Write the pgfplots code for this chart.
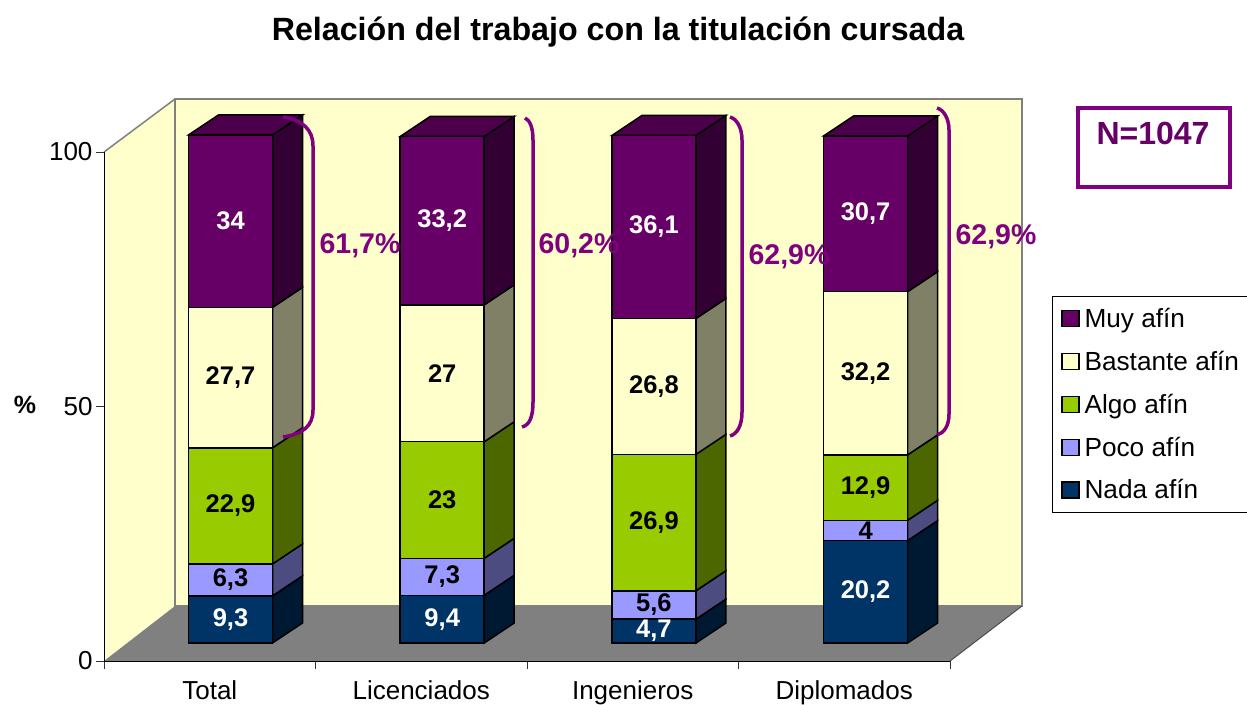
\documentclass[border=0pt]{standalone}
\usepackage{fontspec}
\setmainfont{Liberation Sans}
\usepackage{pgfplots}
\usepackage{pgfplotstable}
\pgfplotsset{compat=1.18}

\definecolor{nadac}{HTML}{003366}
\definecolor{pococ}{HTML}{9999FF}
\definecolor{algoc}{HTML}{99CC00}
\definecolor{bastc}{HTML}{FFFFCC}
\definecolor{muyc}{HTML}{660066}
\definecolor{nadas}{HTML}{001933}
\definecolor{pocos}{HTML}{4C4C80}
\definecolor{algos}{HTML}{4C6600}
\definecolor{basts}{HTML}{808066}
\definecolor{muys}{HTML}{330033}
\definecolor{muyt}{HTML}{4C004C}
\definecolor{marca}{HTML}{800080}

\pgfplotstableread{
x nada poco algo bastante muy
0 9.3 6.3 22.9 27.7 34
1 9.4 7.3 23 27 33.2
2 4.7 5.6 26.9 26.8 36.1
3 20.2 4 12.9 32.2 30.7
}\datos

% page is 1247x704 pt, so 1pt = 1px of the reference
\pgfplotsset{
  page/.style={at={(0,0)},anchor=south west,scale only axis,width=1247pt,height=704pt,
    axis lines=none,clip=false},
  barras/.style={page,xmin=-1.0888,xmax=4.8016,ymin=-12.03,ymax=126.82},
  pix/.style={page,xmin=0,xmax=1247,ymin=0,ymax=704,y dir=reverse},
}

% one bar's side and top faces: category, then the five values
\newcommand{\caras}[6]{%
  \pgfmathsetmacro\xa{#1+0.1984}\pgfmathsetmacro\xb{#1+0.1984+0.1417}%
  \pgfmathsetmacro\xc{#1-0.1984}\pgfmathsetmacro\xd{#1-0.1984+0.1417}%
  \edef\lo{0}%
  \cara{#2}{nadas}\cara{#3}{pocos}\cara{#4}{algos}\cara{#5}{basts}\cara{#6}{muys}%
  \pgfmathsetmacro\yb{\lo+3.945}%
  \addplot[fill=muyt,draw=black,line width=1.5pt] coordinates {(\xc,\lo)(\xa,\lo)(\xb,\yb)(\xd,\yb)} -- cycle;
}
\newcommand{\cara}[2]{%
  \pgfmathsetmacro\hi{\lo+#1}%
  \pgfmathsetmacro\yb{\lo+3.945}\pgfmathsetmacro\yd{\hi+3.945}%
  \addplot[fill=#2,draw=black,line width=1.5pt] coordinates {(\xa,\lo)(\xb,\yb)(\xb,\yd)(\xa,\hi)} -- cycle;
  \global\let\lo\hi
}

\begin{document}
\begin{tikzpicture}
\useasboundingbox (0,0) rectangle (1247pt,704pt);

% walls and floor
\begin{axis}[pix]
\addplot[fill=bastc,draw=none] coordinates {(104,152)(175,99)(175,606)(104,661)} -- cycle;
\addplot[fill=bastc,draw=black!50,line width=1.5pt] coordinates {(175,99)(1022,99)(1022,606)(175,606)} -- cycle;
\addplot[draw=black!50,line width=1.5pt] coordinates {(104,152)(175,99)};
\addplot[fill=black!50,draw=none] coordinates {(104,661)(175,606)(1022,606)(950,661)} -- cycle;
\addplot[draw=black!70,line width=1pt] coordinates {(950,661)(1022,606)};
\end{axis}

% real axis on the front plane
\begin{axis}[
  at={(104pt,43pt)},anchor=south west,scale only axis,width=846pt,height=509pt,
  xmin=0,xmax=4,ymin=0,ymax=100,
  axis x line*=bottom,axis y line*=left,axis line style={-,line width=0.8pt},
  xtick={0.5,1.5,2.5,3.5},xticklabels={Total,Licenciados,Ingenieros,Diplomados},
  minor xtick={0,1,2,3,4},ytick={0,50,100},
  major x tick style={draw=none},
  tick align=outside,major tick length=8pt,minor tick length=8pt,
  tick style={black!80,line width=0.8pt},
  xticklabel style={yshift=-8pt},
  tick label style={font=\fontsize{26}{31}\selectfont},
  /pgf/number format/assume math mode=true,
]
\end{axis}

% side and top faces
\begin{axis}[barras]
\caras{0}{9.3}{6.3}{22.9}{27.7}{34}
\caras{1}{9.4}{7.3}{23}{27}{33.2}
\caras{2}{4.7}{5.6}{26.9}{26.8}{36.1}
\caras{3}{20.2}{4}{12.9}{32.2}{30.7}
\end{axis}

% front faces, value labels, legend
\begin{axis}[barras,
  ybar stacked,bar width=84pt,
  nodes near coords,
  /pgf/number format/assume math mode=true,
  /pgf/number format/use comma,
  legend image code/.code={\draw[#1,line width=1.2pt] (0pt,-8pt) rectangle (17pt,8pt);},
  reverse legend,legend cell align=left,
  legend style={at={(rel axis cs:0.8436,0.5795)},anchor=north west,draw=black,line width=0.8pt,
    font=\fontsize{26.2}{31}\selectfont,row sep=18pt,inner xsep=9pt,inner ysep=10pt,
    /tikz/every odd column/.append style={column sep=3pt}},
  lab/.style={draw=black,line width=1.5pt,fill=#1,point meta=explicit},
  nodes near coords style={font=\fontsize{25.5}{30}\selectfont\bfseries,anchor=center},
]
\addplot[lab=nadac,nodes near coords style={white}] table[x=x,y=nada,meta=nada] {\datos};
\addplot[lab=pococ,nodes near coords style={black}] table[x=x,y=poco,meta=poco] {\datos};
\addplot[lab=algoc,nodes near coords style={black}] table[x=x,y=algo,meta=algo] {\datos};
\addplot[lab=bastc,nodes near coords style={black}] table[x=x,y=bastante,meta=bastante] {\datos};
\addplot[lab=muyc,nodes near coords style={white}] table[x=x,y=muy,meta=muy] {\datos};
\legend{Nada afín,Poco afín,Algo afín,Bastante afín\hspace*{15pt},Muy afín}
\end{axis}

% title and annotations
\begin{axis}[pix]
\node[font=\fontsize{32.2}{38}\selectfont\bfseries] at (618,32) {Relación del trabajo con la titulación cursada};
\node[font=\fontsize{25}{30}\selectfont\bfseries] at (25,405) {\%};
\draw[marca,line width=3.5pt] (283,117) .. controls (303,120) and (313,130) .. (313,146) -- (313,410) .. controls (313,426) and (303,434) .. (283,437);
\draw[marca,line width=3.5pt] (525,118) .. controls (530,120) and (533,128) .. (533,140) -- (533,402) .. controls (533,416) and (530,425) .. (522,427);
\draw[marca,line width=3.5pt] (730,117) .. controls (737,119) and (742,128) .. (742,140) -- (742,412) .. controls (742,426) and (737,434) .. (730,436);
\draw[marca,line width=3.5pt] (937,108) .. controls (944,110) and (949,119) .. (949,130) -- (949,414) .. controls (949,426) and (944,433) .. (937,435);
\node[marca,font=\fontsize{28.5}{34}\selectfont\bfseries] at (360,246) {61,7\%};
\node[marca,font=\fontsize{28.5}{34}\selectfont\bfseries] at (579,246) {60,2\%};
\node[marca,font=\fontsize{28.5}{34}\selectfont\bfseries] at (789,257) {62,9\%};
\node[marca,font=\fontsize{28.5}{34}\selectfont\bfseries] at (996,237) {62,9\%};
\draw[marca,line width=3.5pt] (1078,108) rectangle (1230,187);
\node[muyc,font=\fontsize{32}{38}\selectfont\bfseries] at (1153,133) {N=1047};
\end{axis}
\end{tikzpicture}
\end{document}
